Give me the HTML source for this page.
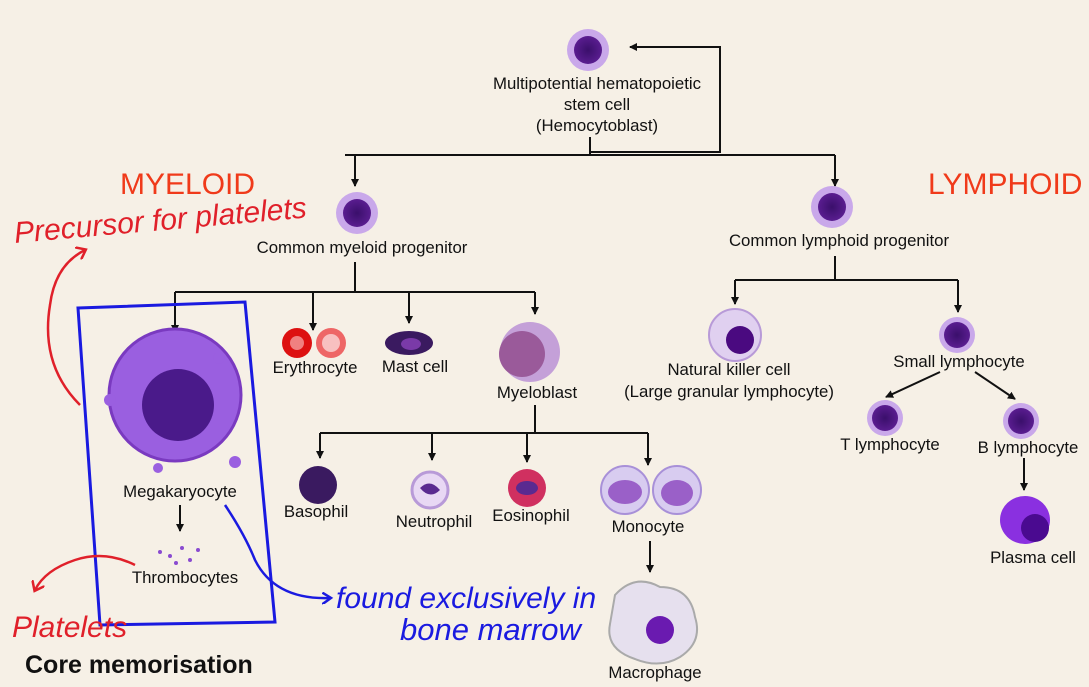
<!DOCTYPE html>
<html><head><meta charset="utf-8"><style>
html,body{margin:0;padding:0;background:#f6f0e6;}
svg{display:block}
text{font-family:"Liberation Sans",sans-serif;font-size:16.8px;fill:#111;}
.c{text-anchor:middle}
</style></head><body>
<svg width="1089" height="687" viewBox="0 0 1089 687" xmlns="http://www.w3.org/2000/svg">
<defs>
<marker id="a" markerWidth="8" markerHeight="8" refX="7" refY="4" orient="auto" markerUnits="userSpaceOnUse"><path d="M0,0L8,4L0,8z" fill="#111"/></marker>
<marker id="b" markerWidth="12" markerHeight="12" refX="8" refY="6" orient="auto" markerUnits="userSpaceOnUse"><path d="M0,0L9,6L0,12" fill="none" stroke="#1a1ae0" stroke-width="2.5"/></marker>
<marker id="r" markerWidth="14" markerHeight="14" refX="8" refY="7" orient="auto" markerUnits="userSpaceOnUse"><path d="M0,0L9,7L0,14" fill="none" stroke="#e0202a" stroke-width="2.5"/></marker>
<radialGradient id="cell"><stop offset="0" stop-color="#3a0f6b"/><stop offset="1" stop-color="#5a1d90"/></radialGradient>
</defs>
<g stroke="#111" stroke-width="2" fill="none">
<path d="M590,137V155M345,155H835M355,155V186" marker-end="url(#a)"/>
<path d="M835,155V186" marker-end="url(#a)"/>
<path d="M590,152H720V47H630" marker-end="url(#a)"/>
<path d="M355,262V292M175,292H535M175,292V332" marker-end="url(#a)"/>
<path d="M313,292V330" marker-end="url(#a)"/>
<path d="M409,292V323" marker-end="url(#a)"/>
<path d="M535,292V314" marker-end="url(#a)"/>
<path d="M535,405V433M320,433H648M320,433V458" marker-end="url(#a)"/>
<path d="M432,433V460" marker-end="url(#a)"/>
<path d="M527,433V462" marker-end="url(#a)"/>
<path d="M648,433V465" marker-end="url(#a)"/>
<path d="M650,541V572" marker-end="url(#a)"/>
<path d="M180,505V531" marker-end="url(#a)"/>
<path d="M835,256V280M735,280H958M735,280V304" marker-end="url(#a)"/>
<path d="M958,280V312" marker-end="url(#a)"/>
<path d="M940,372L886,397" marker-end="url(#a)"/>
<path d="M975,372L1015,399" marker-end="url(#a)"/>
<path d="M1024,458V490" marker-end="url(#a)"/>
</g>
<g>
<circle cx="588" cy="50" r="21" fill="#c9a8ea"/><circle cx="588" cy="50" r="14" fill="url(#cell)"/>
<circle cx="357" cy="213" r="21" fill="#c9a8ea"/><circle cx="357" cy="213" r="14" fill="url(#cell)"/>
<circle cx="832" cy="207" r="21" fill="#c9a8ea"/><circle cx="832" cy="207" r="14" fill="url(#cell)"/>
<circle cx="297" cy="343" r="15" fill="#d11"/><circle cx="297" cy="343" r="7" fill="#f08080"/>
<circle cx="331" cy="343" r="15" fill="#e66"/><circle cx="331" cy="343" r="9" fill="#f8c0c0"/>
<ellipse cx="409" cy="343" rx="24" ry="12" fill="#3a1a60"/><ellipse cx="411" cy="344" rx="10" ry="6" fill="#7a3aa8"/>
<circle cx="530" cy="352" r="30" fill="#c4a0d8"/><circle cx="522" cy="354" r="23" fill="#9a5a9a"/>
<circle cx="318" cy="485" r="19" fill="#3a1a60"/>
<circle cx="430" cy="490" r="18" fill="#e8d8f4" stroke="#b89ad8" stroke-width="3"/><path d="M420,488q10,-10 20,2q-10,10 -20,-2z" fill="#5a2a90"/>
<circle cx="527" cy="488" r="19" fill="#d03060"/><ellipse cx="527" cy="488" rx="11" ry="7" fill="#5a2a90"/>
<circle cx="625" cy="490" r="24" fill="#d8ccf0" stroke="#a890d8" stroke-width="2"/><ellipse cx="625" cy="492" rx="17" ry="12" fill="#9a60c8"/>
<circle cx="677" cy="490" r="24" fill="#d8ccf0" stroke="#a890d8" stroke-width="2"/><ellipse cx="677" cy="493" rx="16" ry="13" fill="#9a60c8"/>
<path d="M615,595q20,-22 45,-8q30,0 35,30q8,25 -15,40q-20,12 -45,2q-30,-10 -25,-35z" fill="#e6e0ee" stroke="#aaa" stroke-width="2"/>
<circle cx="660" cy="630" r="14" fill="#6a1ab0"/>
<circle cx="175" cy="395" r="66" fill="#9a5fe0" stroke="#7a3ac0" stroke-width="3"/>
<circle cx="178" cy="405" r="36" fill="#4a1a8a"/>
<circle cx="110" cy="400" r="6" fill="#9a5fe0"/><circle cx="235" cy="462" r="6" fill="#9a5fe0"/><circle cx="158" cy="468" r="5" fill="#9a5fe0"/><circle cx="219" cy="358" r="6" fill="#9a5fe0"/>
<g fill="#8a4ad0"><circle cx="160" cy="552" r="2"/><circle cx="170" cy="556" r="2"/><circle cx="182" cy="548" r="2"/><circle cx="190" cy="560" r="2"/><circle cx="198" cy="550" r="2"/><circle cx="176" cy="563" r="2"/></g>
<circle cx="735" cy="335" r="26" fill="#e0d0f0" stroke="#b89ad8" stroke-width="2"/><circle cx="740" cy="340" r="14" fill="#4a0a80"/>
<circle cx="957" cy="335" r="18" fill="#c9a8ea"/><circle cx="957" cy="335" r="13" fill="url(#cell)"/>
<circle cx="885" cy="418" r="18" fill="#c9a8ea"/><circle cx="885" cy="418" r="13" fill="url(#cell)"/>
<circle cx="1021" cy="421" r="18" fill="#c9a8ea"/><circle cx="1021" cy="421" r="13" fill="url(#cell)"/>
<ellipse cx="1025" cy="520" rx="25" ry="24" fill="#8a30e0"/><circle cx="1035" cy="528" r="14" fill="#4a0a90"/>
</g>
<text class="c" x="597" y="89">Multipotential hematopoietic</text>
<text class="c" x="597" y="110">stem cell</text>
<text class="c" x="597" y="131">(Hemocytoblast)</text>
<text x="120" y="194" style="font-size:30px;fill:#f03a1a">MYELOID</text>
<text x="928" y="194" style="font-size:30px;fill:#f03a1a">LYMPHOID</text>
<text class="c" x="362" y="253">Common myeloid progenitor</text>
<text class="c" x="839" y="246">Common lymphoid progenitor</text>
<text class="c" x="315" y="373">Erythrocyte</text>
<text class="c" x="415" y="372">Mast cell</text>
<text class="c" x="537" y="398">Myeloblast</text>
<text class="c" x="316" y="517">Basophil</text>
<text class="c" x="434" y="527">Neutrophil</text>
<text class="c" x="531" y="521">Eosinophil</text>
<text class="c" x="648" y="532">Monocyte</text>
<text class="c" x="655" y="678">Macrophage</text>
<text class="c" x="180" y="497">Megakaryocyte</text>
<text class="c" x="185" y="583">Thrombocytes</text>
<text class="c" x="729" y="375">Natural killer cell</text>
<text class="c" x="729" y="397">(Large granular lymphocyte)</text>
<text class="c" x="959" y="367">Small lymphocyte</text>
<text class="c" x="890" y="450">T lymphocyte</text>
<text class="c" x="1028" y="453">B lymphocyte</text>
<text class="c" x="1033" y="563">Plasma cell</text>
<path d="M78,308L245,302L275,622L100,625Z" fill="none" stroke="#1a1ae0" stroke-width="3"/>
<path d="M225,505q20,30 30,55q20,40 75,38" fill="none" stroke="#1a1ae0" stroke-width="2.5" marker-end="url(#b)"/>
<text x="336" y="608" style="font-size:30px;fill:#1a1ae0;font-style:italic">found exclusively in</text>
<text x="400" y="640" style="font-size:31px;fill:#1a1ae0;font-style:italic">bone marrow</text>
<text x="15" y="243" transform="rotate(-5 15 243)" style="font-size:30px;fill:#e0202a;font-style:italic">Precursor for platelets</text>
<path d="M80,405q-40,-40 -30,-100q5,-40 35,-55" fill="none" stroke="#e0202a" stroke-width="2.5" marker-end="url(#r)"/>
<text x="12" y="637" style="font-size:30px;fill:#e0202a;font-style:italic">Platelets</text>
<path d="M135,565q-30,-15 -60,-5q-30,10 -40,30" fill="none" stroke="#e0202a" stroke-width="2.5" marker-end="url(#r)"/>
<text x="25" y="673" style="font-size:25px;font-weight:bold">Core memorisation</text>
</svg>
</body></html>
